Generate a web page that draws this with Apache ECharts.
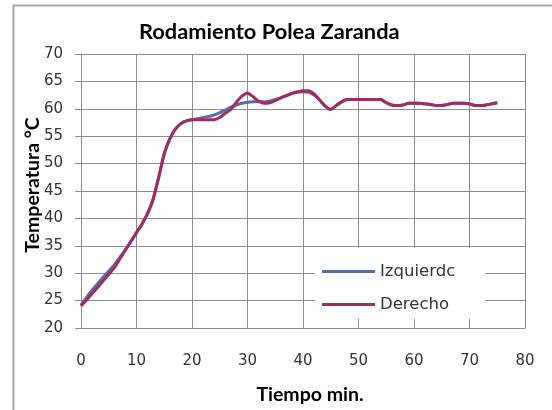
<!DOCTYPE html>
<html>
<head>
<meta charset="utf-8">
<script src="https://cdn.jsdelivr.net/npm/echarts@6/dist/echarts.min.js"></script>
<style>
  html, body { margin: 0; padding: 0; background: #fff; }
  #chart { width: 552px; height: 410px; }
</style>
</head>
<body>
<div id="chart"></div>
<script>
// Data (minutes / °C)
var minutes = [0, 1, 2, 3, 4, 5, 6, 7, 8, 9, 10, 11, 12, 13, 14, 15, 16, 17, 18, 19,
    20, 21, 22, 23, 24, 25, 26, 27, 28, 29, 30, 31, 32, 33, 34, 35, 36, 37, 38, 39,
    40, 41, 42, 43, 44, 45, 46, 47, 48, 49, 50, 51, 52, 53, 54, 55, 56, 57, 58, 59,
    60, 61, 62, 63, 64, 65, 66, 67, 68, 69, 70, 71, 72, 73, 74, 75];

var izquierdo = [24.2, 25.6, 26.9, 28.1, 29.3, 30.4, 31.5, 32.9, 34.3, 35.8, 37.4, 39, 40.9, 43.5, 47.5, 51.8, 54.5, 56.3, 57.3, 57.8,
    58, 58.2, 58.4, 58.6, 58.9, 59.3, 59.8, 60.3, 60.7, 61, 61.2, 61.3, 61.3, 61.3, 61.4, 61.7, 62, 62.4, 62.8, 63,
    63.1, 63, 62.5, 61.6, 60.5, 59.9, 60.6, 61.3, 61.7, 61.7, 61.7, 61.7, 61.7, 61.7, 61.7, 61.1, 60.7, 60.6, 60.7, 61,
    61, 61, 60.9, 60.8, 60.6, 60.6, 60.8, 61, 61, 61, 60.9, 60.6, 60.6, 60.7, 60.9, 61.1];

var derecho = [24, 25.1, 26.3, 27.4, 28.6, 29.8, 31, 32.6, 34.2, 35.8, 37.4, 39, 40.9, 43.5, 47.5, 51.8, 54.5, 56.3, 57.3, 57.8,
    58, 58, 58, 58, 58, 58.4, 59.2, 59.9, 61.2, 62.3, 62.9, 62.2, 61.4, 61, 61.1, 61.5, 62, 62.4, 62.8, 63.1,
    63.3, 63.3, 62.7, 61.6, 60.5, 59.9, 60.6, 61.3, 61.7, 61.7, 61.7, 61.7, 61.7, 61.7, 61.7, 61.1, 60.7, 60.6, 60.7, 61,
    61, 61, 60.9, 60.8, 60.6, 60.6, 60.8, 61, 61, 61, 60.9, 60.6, 60.6, 60.7, 60.9, 61.1];

var seriesNames = ['Izquierdc', 'Derecho'];

function pairs(xs, ys) {
    return xs.map(function (x, i) { return [x, ys[i]]; });
}

var chart = echarts.init(document.getElementById('chart'));

var gridColor = '#8c8c8c';

chart.setOption({
    animation: false,
    color: ['#5c6aa6', '#a02d60'],
    textStyle: { fontFamily: 'DejaVu Sans' },

    // Outer chart frame (only top and left edges are visible)
    graphic: [{
        type: 'polyline',
        shape: { points: [[13.5, 410], [13.5, 5.5], [552, 5.5]] },
        style: { stroke: '#a6a6a6', lineWidth: 2, fill: null },
        silent: true
    }],

    title: {
        text: 'Rodamiento Polea Zaranda',
        left: 139,
        top: 21,
        padding: 0,
        textStyle: {
            fontFamily: 'Lato',
            fontWeight: 'bold',
            fontSize: 21.8,
            color: '#000'
        }
    },

    grid: {
        left: 81,
        right: 27,
        top: 54,
        bottom: 82,
        containLabel: false,
        outerBoundsMode: 'none'
    },

    legend: {
        data: seriesNames,
        orient: 'vertical',
        left: 315,
        top: 248,
        padding: [15, 30, 6, 7],
        itemGap: 16,
        itemWidth: 53,
        itemHeight: 3,
        icon: 'rect',
        backgroundColor: '#fff',
        textStyle: {
            fontFamily: 'DejaVu Sans',
            fontSize: 16.5,
            color: '#333',
            lineHeight: 17
        }
    },

    xAxis: {
        type: 'value',
        min: 0,
        max: 80,
        interval: 10,
        name: 'Tiempo min.',
        nameLocation: 'middle',
        nameGap: 57,
        nameMoveOverlap: false,
        nameTextStyle: {
            fontFamily: 'Lato',
            fontWeight: 'bold',
            fontSize: 19.5,
            color: '#000',
            padding: [0, 0, 0, 14]
        },
        axisLine: { show: true, lineStyle: { color: gridColor, width: 1 } },
        axisTick: { show: false },
        axisLabel: { color: '#333', fontSize: 15, margin: 26 },
        splitLine: { show: true, lineStyle: { color: gridColor, width: 1 } }
    },

    yAxis: {
        type: 'value',
        min: 20,
        max: 70,
        interval: 5,
        name: 'Temperatura °C',
        nameLocation: 'middle',
        nameGap: 38,
        nameMoveOverlap: false,
        nameTextStyle: {
            fontFamily: 'Lato',
            fontWeight: 'bold',
            fontSize: 19.5,
            color: '#000',
            padding: [0, 0, 0, 12]
        },
        axisLine: { show: true, lineStyle: { color: gridColor, width: 1 } },
        axisTick: { show: true, inside: false, length: 6, lineStyle: { color: gridColor } },
        axisLabel: { color: '#333', fontSize: 15, margin: 18 },
        splitLine: { show: true, lineStyle: { color: gridColor, width: 1 } }
    },

    series: [
        {
            name: seriesNames[0],
            type: 'line',
            data: pairs(minutes, izquierdo),
            showSymbol: false,
            smooth: 0.2,
            lineStyle: { width: 3 }
        },
        {
            name: seriesNames[1],
            type: 'line',
            data: pairs(minutes, derecho),
            showSymbol: false,
            smooth: 0.2,
            lineStyle: { width: 3 }
        }
    ]
});
</script>
</body>
</html>
